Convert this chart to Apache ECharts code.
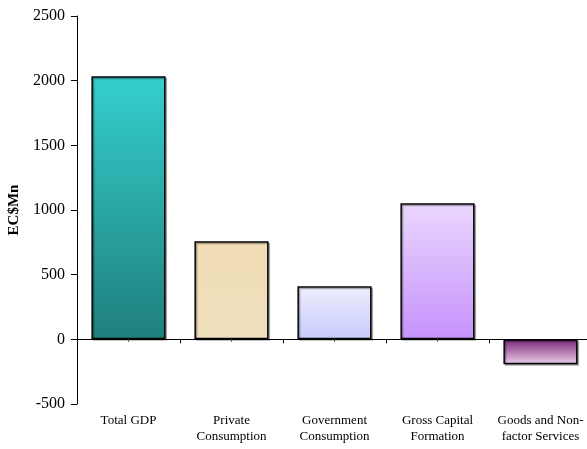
<!DOCTYPE html>
<html><head><meta charset="utf-8">
<script src="https://cdn.jsdelivr.net/npm/echarts@6/dist/echarts.min.js"></script>
<style>html,body{margin:0;padding:0;background:#fff}#c{width:587px;height:449px}</style>
</head><body><div id="c"></div>
<script>
const categories = ["Total GDP", "Private\nConsumption", "Government\nConsumption", "Gross Capital\nFormation", "Goods and Non-\nfactor Services"];
const values = [2034, 758, 410, 1052, -193];
const yTicks = [-500, 0, 500, 1000, 1500, 2000, 2500];

const grads = [
  ['#34cfcd', '#1f7f7d'],
  ['#f0dcb4', '#eedfbc'],
  ['#eeeefc', '#c6cafc'],
  ['#ead6fd', '#c692fc'],
  ['#7a2878', '#ecd0ea']
];
const font = 'Liberation Serif, Times New Roman, serif';
const chart = echarts.init(document.getElementById('c'));
chart.setOption({
  animation: false,
  grid: {left: 77, top: 16, width: 515, height: 388, containLabel: false, outerBoundsMode: 'none'},
  xAxis: [
    {type: 'category', data: categories,
     axisLine: {show: true, onZero: true, lineStyle: {color: '#000', width: 1}},
     axisTick: {show: true, inside: false, length: 4, interval: 0, lineStyle: {color: '#000'}},
     axisLabel: {show: false}},
    {type: 'category', data: categories, position: 'bottom', offset: 0,
     axisLine: {show: false, onZero: false},
     axisTick: {show: false},
     axisLabel: {color: '#000', fontFamily: font, fontSize: 13, lineHeight: 16, margin: 9, interval: 0, hideOverlap: false}},
    {type: 'category', data: categories, position: 'bottom', offset: -65,
     axisLine: {show: false, onZero: false},
     axisTick: {show: true, alignWithLabel: true, interval: 0, length: 3, lineStyle: {color: '#777'}},
     axisLabel: {show: false}}
  ],
  yAxis: {
    type: 'value', min: yTicks[0], max: yTicks[yTicks.length - 1], interval: 500,
    name: 'EC$Mn', nameLocation: 'middle', nameGap: 55, nameRotate: 90, nameMoveOverlap: false,
    nameTextStyle: {fontFamily: font, fontSize: 15, fontWeight: 'bold', color: '#000'},
    axisLine: {show: true, lineStyle: {color: '#000'}},
    axisTick: {show: true, length: 6, lineStyle: {color: '#000'}},
    axisLabel: {color: '#000', fontFamily: font, fontSize: 16, margin: 12, formatter: v => String(v)},
    splitLine: {show: false}
  },
  series: [{
    type: 'bar', xAxisIndex: 0, barCategoryGap: '28%',
    data: values.map((v, i) => ({
      value: v,
      itemStyle: {
        color: new echarts.graphic.LinearGradient(0, 0, 0, 1, [
          {offset: 0, color: grads[i][0]}, {offset: 1, color: grads[i][1]}]),
        borderColor: '#000', borderWidth: 1.5,
        shadowColor: 'rgba(0,0,0,0.3)', shadowOffsetX: 1.5, shadowOffsetY: 1.5, shadowBlur: 0
      }
    }))
  }]
});
</script></body></html>
